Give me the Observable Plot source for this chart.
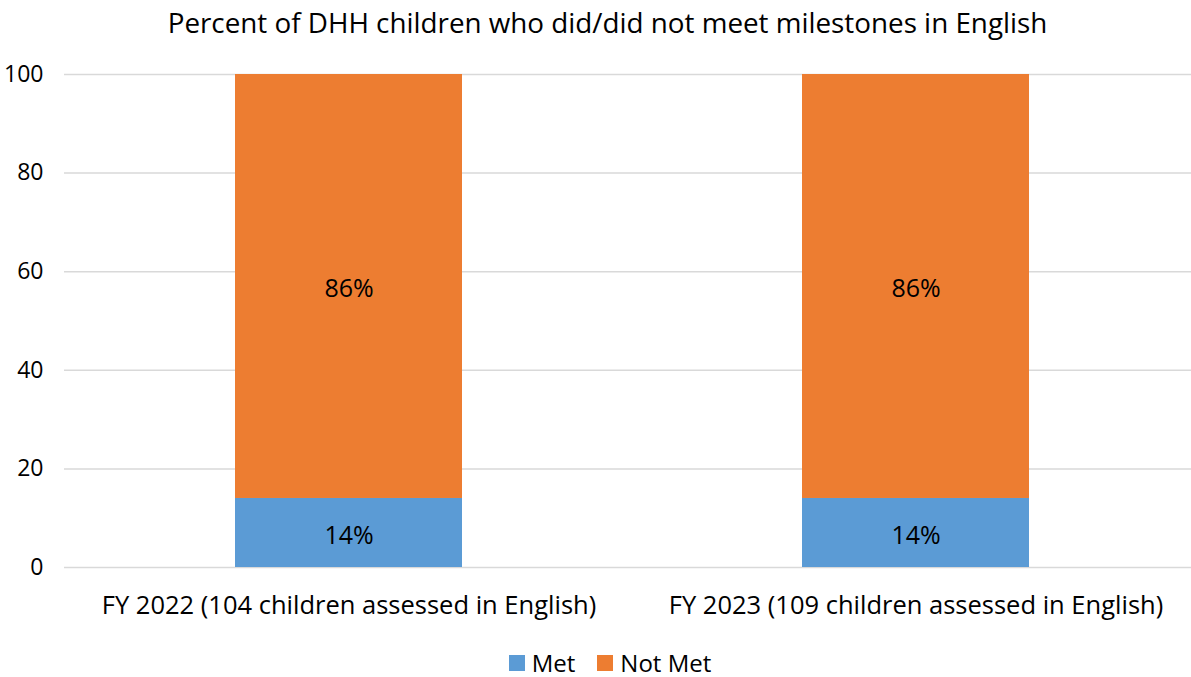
<!DOCTYPE html>
<html>
<head>
<meta charset="utf-8">
<script src="https://cdn.jsdelivr.net/npm/d3@7"></script>
<script src="https://cdn.jsdelivr.net/npm/@observablehq/plot@0.6"></script>
<style>
  html, body { margin: 0; padding: 0; background: #fff; }
  #wrap { position: relative; width: 1191px; height: 677px; font-family: "Open Sans", sans-serif; color: #000; }
  #title { position: absolute; top: 3px; left: 0; width: 1215px; text-align: center; font-size: 27.8px; line-height: 38px; white-space: nowrap; }
  #legend { position: absolute; top: 647px; left: 0; width: 1220px; display: flex; justify-content: center; align-items: center; font-size: 24px; line-height: 32px; }
  .item { display: flex; align-items: center; margin: 0 11px; }
  .sw { width: 16px; height: 16px; margin-right: 7px; }
  #chart { position: absolute; top: 0; left: 0; }
</style>
</head>
<body>
<div id="wrap">
  <div id="chart"></div>
  <div id="title">Percent of DHH children who did/did not meet milestones in English</div>
  <div id="legend"></div>
</div>
<script>
const categories = ["FY 2022 (104 children assessed in English)", "FY 2023 (109 children assessed in English)"];
const seriesNames = ["Met", "Not Met"];
const metValues = [14, 14];
const notMetValues = [86, 86];
const seriesColors = ["#5B9BD5", "#ED7D31"];
const yTicks = [0, 20, 40, 60, 80, 100];

const data = [];
categories.forEach((c, i) => {
  data.push({category: c, series: seriesNames[0], value: metValues[i]});
  data.push({category: c, series: seriesNames[1], value: notMetValues[i]});
});

const chart = Plot.plot({
  width: 1191,
  height: 677,
  marginTop: 74,
  marginBottom: 110,
  marginLeft: 64,
  marginRight: 0,
  style: {fontFamily: "'Open Sans', sans-serif", color: "#000", background: "#fff"},
  x: {domain: categories, range: [64, 1199], paddingInner: 0.6, paddingOuter: 0.3, label: null},
  y: {domain: [0, 100], ticks: yTicks, label: null},
  color: {domain: seriesNames, range: seriesColors},
  marks: [
    Plot.ruleY(yTicks, {stroke: "#D9D9D9", strokeWidth: 1.5}),
    Plot.barY(data, {x: "category", y: "value", fill: "series", order: seriesNames}),
    Plot.text(data, Plot.stackY({x: "category", y: "value", z: "series", order: seriesNames, text: d => d.value + "%", fontSize: 25, dy: 3, fill: "#000"})),
    Plot.axisY(yTicks, {tickSize: 0, tickPadding: 21, fontSize: 23, label: null, fill: "#000"}),
    Plot.axisX({tickSize: 0, tickPadding: 28, fontSize: 25.5, label: null, fill: "#000"})
  ]
});
document.getElementById("chart").appendChild(chart);

const legend = document.getElementById("legend");
seriesNames.forEach((s, i) => {
  const item = document.createElement("div");
  item.className = "item";
  const sw = document.createElement("div");
  sw.className = "sw";
  sw.style.background = seriesColors[i];
  const t = document.createElement("span");
  t.textContent = s;
  item.appendChild(sw);
  item.appendChild(t);
  legend.appendChild(item);
});
</script>
</body>
</html>
